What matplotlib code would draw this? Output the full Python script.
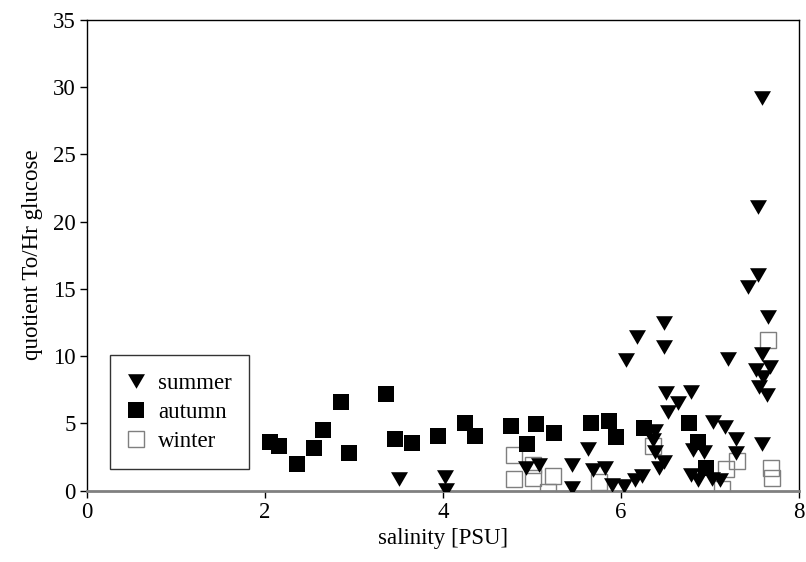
import matplotlib.pyplot as plt

plt.rcParams['font.family'] = ['Liberation Serif', 'DejaVu Serif']

# summer (filled triangles)
summer_sal = [3.51, 4.02, 4.04, 4.93, 5.08, 5.45, 5.45, 5.63, 5.69, 5.82,
              5.90, 6.04, 6.06, 6.18, 6.24, 6.16, 6.36, 6.38, 6.38, 6.43,
              6.49, 6.49, 6.48, 6.51, 6.53, 6.64, 6.79, 6.81, 6.94, 6.79,
              6.87, 7.02, 7.11, 7.04, 7.17, 7.30, 7.30, 7.21, 7.43, 7.54,
              7.54, 7.59, 7.66, 7.59, 7.52, 7.68, 7.60, 7.55, 7.64, 7.59]
summer_q = [0.83, 1.0, 0.04, 1.7, 1.9, 1.9, 0.16, 3.06, 1.52, 1.65,
            0.41, 0.35, 9.7, 11.43, 1.1, 0.78, 3.75, 2.9, 4.4, 1.65,
            2.14, 12.47, 10.68, 7.27, 5.85, 6.48, 7.34, 3.0, 2.88, 1.15,
            0.78, 0.9, 0.78, 5.11, 4.7, 3.8, 2.81, 9.8, 15.14, 16.0,
            21.1, 29.2, 12.9, 10.14, 8.95, 9.2, 8.46, 7.67, 7.1, 3.45]

# autumn (filled squares)
autumn_sal = [2.06, 2.16, 2.36, 2.55, 2.65, 2.85, 2.95, 3.36, 3.46, 3.65,
              3.95, 4.25, 4.36, 4.76, 4.95, 5.05, 5.25, 5.66, 5.87, 5.95,
              6.26, 6.77, 6.87, 6.96]
autumn_q = [3.61, 3.3, 1.99, 3.18, 4.5, 6.6, 2.8, 7.15, 3.83, 3.55,
            4.05, 5.04, 4.07, 4.79, 3.5, 4.92, 4.3, 5.04, 5.16, 3.97,
            4.62, 5.05, 3.63, 1.65]

# winter (open squares)
winter_sal = [4.80, 4.80, 5.01, 5.01, 5.24, 5.18, 5.75, 6.36, 7.18, 7.31,
              7.14, 7.69, 7.70, 7.66]
winter_q = [2.64, 0.85, 1.94, 0.95, 1.1, -0.13, 0.65, 3.3, 1.6, 2.22,
            0.09, 1.65, 0.91, 11.23]

# slightly flattened down-pointing triangle
tri = [(-1, 0.86), (1, 0.86), (0, -0.86)]

fs = 16.5

fig = plt.figure(figsize=(8.06, 5.62), dpi=100)
ax = fig.add_axes([0.108, 0.127, 0.883, 0.838])

hw, = ax.plot(winter_sal, winter_q, ls='none', marker='s', ms=12.2,
              mfc='none', mec='#7f7f7f', mew=1.0, label='winter', zorder=3)
ha, = ax.plot(autumn_sal, autumn_q, ls='none', marker='s', ms=12.2,
              mfc='black', mec='black', mew=0, label='autumn', zorder=4)
hs, = ax.plot(summer_sal, summer_q, ls='none', marker=tri, ms=12.2,
              mfc='black', mec='black', mew=0, label='summer', zorder=5)

ax.set_xlim(0, 8)
ax.set_ylim(0, 35)
ax.set_xticks([0, 2, 4, 6, 8])
ax.set_yticks([0, 5, 10, 15, 20, 25, 30, 35])
ax.tick_params(labelsize=fs, length=5, width=1, color='black', direction='out', pad=3)
for sp in ax.spines.values():
    sp.set_color('black')
    sp.set_linewidth(1)
ax.spines['bottom'].set_color('#808080')
ax.spines['bottom'].set_linewidth(2)

ax.set_xlabel('salinity [PSU]', fontsize=fs, labelpad=4)
ax.set_ylabel('quotient To/Hr glucose', fontsize=fs, labelpad=7)

leg = ax.legend(handles=[hs, ha, hw], loc='lower left',
                bbox_to_anchor=(0.032, 0.046), borderaxespad=0,
                fontsize=fs, frameon=True, fancybox=False,
                borderpad=0.75, handletextpad=0.6, labelspacing=0.35,
                handlelength=0.75)
leg.get_frame().set_edgecolor('black')
leg.get_frame().set_linewidth(1)

fig.savefig('out.png', dpi=100)
